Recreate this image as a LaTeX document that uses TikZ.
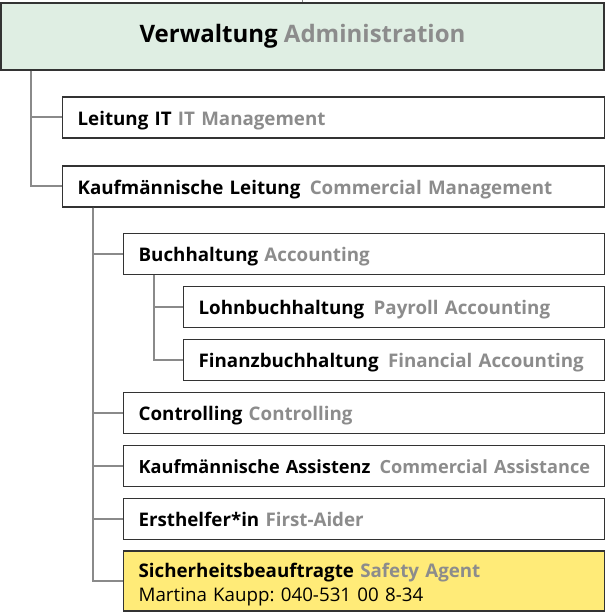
\documentclass[tikz,border=0pt]{standalone}
\usepackage{xcolor}
\usepackage{fontspec}
\setmainfont{Open Sans}
\usepackage{tikz}
\usetikzlibrary{calc}
\usetikzlibrary{positioning}
\frenchspacing
\definecolor{boxline}{HTML}{333333}
\definecolor{connline}{HTML}{8A8A8A}
\definecolor{engl}{HTML}{8C8C8C}
\definecolor{headfill}{HTML}{DFEEE3}
\definecolor{safefill}{HTML}{FFEB78}
\newcommand{\en}[1]{{\color{engl}#1}}
\tikzstyle{unit} = [rectangle, draw=boxline, line width=1.1pt, fill=white, anchor=west, inner xsep=0.45cm, align=left, minimum height=1.23cm, font=\fontsize{16}{20.5}\selectfont\bfseries]
\tikzstyle{oneline} = [unit, text height=16pt, text depth=3pt]
\tikzstyle{lvlA} = [oneline, text width=15.36cm]
\tikzstyle{lvlB} = [oneline, text width=13.53cm]
\tikzstyle{lvlC} = [oneline, text width=11.73cm]
\tikzstyle{safety} = [unit, text width=13.53cm, fill=safefill, minimum height=1.8cm]
\tikzstyle{conn} = [-, draw=connline, line width=1.7pt]

\begin{document}
\begin{tikzpicture}[x=0.03cm, y=0.03cm]
\useasboundingbox (0,0) rectangle (605,612);
\node [rectangle, draw=boxline, line width=1.1pt, fill=headfill, minimum width=18.09cm, minimum height=2.01cm, font=\fontsize{20.5}{25}\selectfont\bfseries] (top) at (302.5, 575.5) {Verwaltung \en{Administration}};
\node [lvlA] (it) at (62, 494.5) {Leitung IT \en{IT Management}};
\node [lvlA] (kl) at (62, 425.5) {Kaufmännische Leitung\, \en{Commercial Management}};
\node [lvlB] (bh) at (123, 358) {Buchhaltung \en{Accounting}};
\node [lvlC] (lb) at (183, 305) {Lohnbuchhaltung\, \en{Payroll Accounting}};
\node [lvlC] (fb) at (183, 252) {Finanzbuchhaltung\, \en{Financial Accounting}};
\node [lvlB] (ct) at (123, 199) {Controlling \en{Controlling}};
\node [lvlB, font=\fontsize{15.5}{20}\selectfont\bfseries] (ka) at (123, 146) {\mbox{Kaufmännische Assistenz\, \en{Commercial Assistance}}};
\node [lvlB] (eh) at (123, 93) {Ersthelfer*in \en{First-Aider}};
\node [safety] (sb) at (123, 31) {\rule{0pt}{18.5pt}Sicherheitsbeauftragte \en{Safety Agent}\\\mdseries Martina Kaupp: 040-531 00 8-34};
\draw [conn] (top.north) -- ++(0, 3);
\draw [conn] ([xshift=0.93cm]top.south west) |- (it.west);
\draw [conn] ([xshift=0.93cm]top.south west) |- (kl.west);
\draw [conn] ([xshift=0.93cm]kl.south west) |- (bh.west);
\draw [conn] ([xshift=0.93cm]bh.south west) |- (lb.west);
\draw [conn] ([xshift=0.93cm]bh.south west) |- (fb.west);
\draw [conn] ([xshift=0.93cm]kl.south west) |- (ct.west);
\draw [conn] ([xshift=0.93cm]kl.south west) |- (ka.west);
\draw [conn] ([xshift=0.93cm]kl.south west) |- (eh.west);
\draw [conn] ([xshift=0.93cm]kl.south west) |- (sb.west);
\end{tikzpicture}
\end{document}
